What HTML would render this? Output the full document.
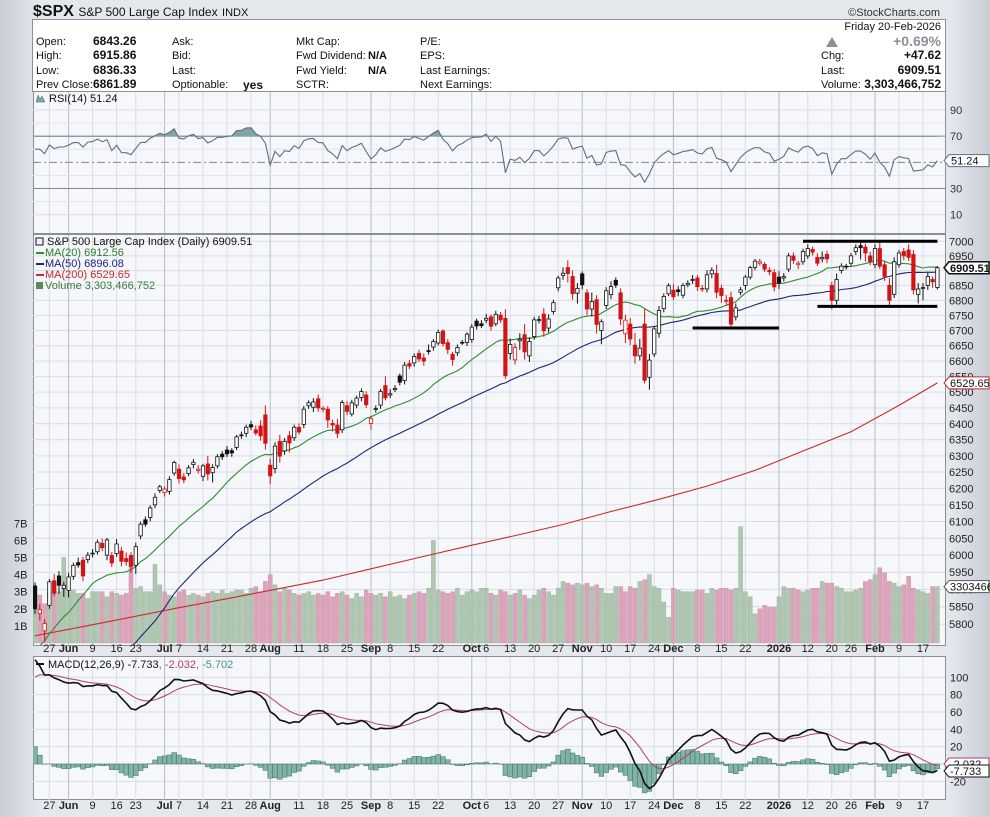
<!DOCTYPE html>
<html><head><meta charset="utf-8"><style>
html,body{margin:0;padding:0;width:990px;height:817px;overflow:hidden;background:#dde1e7;font-family:"Liberation Sans",Arial,sans-serif}
svg{display:block}
text{font-family:"Liberation Sans",Arial,sans-serif}
</style></head><body>
<svg id="chart" width="990" height="817" xmlns="http://www.w3.org/2000/svg">
<defs>
<linearGradient id="bg" x1="0" x2="1" y1="0" y2="0"><stop offset="0" stop-color="#c9cdd5"/><stop offset="0.04" stop-color="#e4e7ec"/><stop offset="0.96" stop-color="#e4e7ec"/><stop offset="1" stop-color="#c9cdd5"/></linearGradient>
<clipPath id="clipMain"><rect x="33" y="234" width="912" height="411"/></clipPath>
<clipPath id="clipRsiHi"><rect x="33" y="92" width="912" height="45"/></clipPath>
<clipPath id="clipMacd"><rect x="33" y="657" width="912" height="143"/></clipPath>
</defs>
<rect x="0" y="0" width="990" height="817" fill="url(#bg)"/>
<g id="header">
<text x="33" y="16" font-size="16" font-weight="bold" fill="#111">$SPX <tspan font-size="12" font-weight="normal">S&amp;P 500 Large Cap Index</tspan> <tspan font-size="11" font-weight="normal">INDX</tspan></text>
<text x="940" y="16" font-size="11" fill="#333" text-anchor="end">©StockCharts.com</text>
<rect x="32.5" y="19.5" width="913" height="72" fill="#fff" stroke="#8a8f99"/>
<g font-size="11" fill="#111">
<text x="36" y="45">Open:</text><text x="93" y="45" font-weight="bold" font-size="12">6843.26</text>
<text x="36" y="59">High:</text><text x="93" y="59" font-weight="bold" font-size="12">6915.86</text>
<text x="36" y="74">Low:</text><text x="93" y="74" font-weight="bold" font-size="12">6836.33</text>
<text x="36" y="88">Prev Close:</text><text x="93" y="88" font-weight="bold" font-size="12">6861.89</text>
<text x="172" y="45">Ask:</text><text x="172" y="59">Bid:</text><text x="172" y="74">Last:</text><text x="172" y="88">Optionable:</text><text x="243" y="89" font-weight="bold" font-size="12">yes</text>
<text x="296" y="45">Mkt Cap:</text><text x="296" y="59">Fwd Dividend:</text><text x="368" y="59" font-weight="bold">N/A</text>
<text x="296" y="74">Fwd Yield:</text><text x="368" y="74" font-weight="bold">N/A</text><text x="296" y="88">SCTR:</text>
<text x="420" y="45">P/E:</text><text x="420" y="59">EPS:</text><text x="420" y="74">Last Earnings:</text><text x="420" y="88">Next Earnings:</text>
<text x="941" y="30" text-anchor="end">Friday  20-Feb-2026</text>
<polygon points="826,47 832,37 838,47" fill="#8a9099"/>
<text x="941" y="46" text-anchor="end" font-size="14" font-weight="bold" fill="#8a9099">+0.69%</text>
<text x="821" y="59">Chg:</text><text x="941" y="59" text-anchor="end" font-weight="bold" font-size="12">+47.62</text>
<text x="821" y="74">Last:</text><text x="941" y="74" text-anchor="end" font-weight="bold" font-size="12">6909.51</text>
<text x="821" y="88">Volume:</text><text x="941" y="88" text-anchor="end" font-weight="bold" font-size="12">3,303,466,752</text>
</g>
</g>
<g id="rsiPanel"></g>
<g id="mainPanel"></g>
<g id="macdPanel"></g>
<g id="dateAxes"></g>
</svg>
<script>
// ---- data ----
const priorCloses = [5599,5522,5639,5675,5615,5675,5662,5668,5768,5777,5712,5693,5581,5612,5633,5671,5397,5074,5062,4982,5457,5268,5363,5406,5397,5276,5283,5158,5288,5376,5485,5525,5529,5561,5569,5604,5687,5650,5607,5631,5664,5660,5844,5886,5892,5917,5958,5964,5941];
const closes = [5844,5842,5802,5922,5889,5912,5912,
5936,5970,5971,5939,6000,6006,6038,6022,6045,5977,6033,5982,5981,5967,6025,6092,6092,6141,6173,6205,
6198,6227,6279,6230,6226,6263,6280,6259,6269,6244,6264,6297,6297,6306,6309,6359,6363,6389,6390,6371,6362,6339,
6238,6330,6299,6345,6340,6389,6374,6446,6466,6469,6450,6449,6412,6396,6370,6467,6439,6466,6481,6502,6460,
6416,6448,6502,6482,6495,6512,6532,6587,6584,6615,6607,6600,6631,6664,6693,6657,6638,6605,6644,6661,6688,
6711,6715,6716,6740,6714,6753,6735,6553,6654,6644,6671,6630,6664,6735,6735,6699,6738,6792,6875,6891,6890,6822,6840,
6852,6771,6796,6720,6729,6832,6846,6851,6738,6734,6672,6617,6642,6538,6603,6705,6766,6813,6849,
6812,6829,6850,6857,6870,6846,6840,6886,6901,6827,6816,6800,6721,6775,6835,6878,6910,6932,6930,6905,6896,6845,
6858,6880,6950,6935,6925,6965,6975,6963,6925,6945,6940,6800,6870,6915,6915,6950,6978,6978,6960,6930,
6975,6915,6880,6800,6930,6960,6950,6945,6835,6838,6843,6880,6862,6909.51];
const opens = [5910,5830,5781,5854,5925,5939,5903,
5897,5938,5978,5985,5987,6005,6010,6035,6000,5999,6005,6012,5990,5999,5970,6057,6105,6112,6150,6194,
6187,6191,6247,6259,6235,6245,6273,6255,6237,6275,6248,6269,6305,6318,6316,6326,6365,6370,6397,6381,6393,6428,
6271,6261,6345,6315,6362,6356,6389,6398,6457,6452,6479,6446,6446,6401,6396,6381,6457,6431,6459,6483,6491,
6401,6445,6459,6521,6491,6508,6552,6537,6592,6594,6625,6610,6634,6646,6659,6698,6660,6622,6627,6661,6661,
6670,6731,6722,6734,6745,6722,6751,6740,6625,6604,6666,6686,6617,6680,6736,6754,6708,6763,6842,6884,6910,6880,6824,
6889,6825,6771,6802,6700,6783,6819,6867,6825,6689,6721,6652,6617,6721,6548,6623,6691,6772,6822,
6834,6835,6817,6852,6867,6875,6838,6838,6889,6890,6840,6797,6809,6745,6827,6850,6878,6911,6925,6921,6901,6893,
6878,6875,6905,6950,6920,6930,6950,6972,6945,6940,6955,6850,6800,6900,6915,6925,6965,6985,6980,6950,
6920,6975,6920,6850,6820,6920,6965,6970,6955,6820,6840,6850,6870,6843.26];
const wickUp = [10,15,12,8,20,14,10,12,8,15,10,9,12,8,14,6,10,15,12,18,10,12,8,10,8,12,6,8,10,6,15,12,8,10,12,6,25,10,8,10,12,8,6,10,8,12,14,18,30,20,12,20,10,15,8,12,10,8,12,14,6,10,12,20,8,15,10,8,10,12,8,10,8,30,15,10,8,10,12,10,12,15,20,8,10,6,12,8,10,8,6,10,8,12,15,8,12,10,30,20,14,20,35,14,10,12,20,15,10,8,20,25,20,18,8,12,30,15,8,12,18,10,15,18,20,40,30,50,20,10,15,10,8,20,12,8,10,15,10,12,15,10,30,12,18,20,15,10,8,6,8,10,8,10,12,20,12,10,12,8,10,15,10,14,20,12,12,20,10,8,10,12,10,12,14,15,20,10,25,15,10,12,20,15,20,15,12,10,6];
const wickDn = [15,20,30,10,8,25,25,20,10,8,15,10,12,8,10,15,12,10,15,12,20,25,10,8,12,10,8,12,10,8,15,10,8,12,10,15,20,30,8,10,10,12,8,10,12,10,8,15,20,25,15,20,12,30,10,8,12,10,15,12,10,25,20,15,10,12,8,10,12,10,20,10,12,8,10,8,10,12,10,12,10,15,10,12,8,10,15,20,10,8,12,10,12,8,10,15,8,10,10,20,15,30,25,20,10,12,20,15,10,12,15,30,20,35,15,20,25,30,45,12,15,10,20,30,20,25,15,10,40,10,15,12,8,10,15,10,8,12,15,10,12,15,20,25,15,10,12,10,15,8,10,8,10,12,15,20,12,10,12,15,10,10,12,10,12,15,30,15,10,12,10,12,40,30,12,12,10,15,20,12,10,15,12,15,30,40,15,20,7];
const volumes = [3.2,2.8,2.3,3.0,3.5,3.0,5.0,
3.0,3.1,2.9,2.9,2.6,3.0,3.0,3.0,2.7,3.0,2.9,2.8,2.9,4.9,3.2,3.3,3.0,3.0,4.6,3.4,
3.0,2.8,2.7,3.0,3.1,2.8,2.9,2.8,2.7,2.9,3.0,2.9,3.1,2.9,3.0,3.1,3.1,2.9,3.2,3.3,3.0,3.6,
4.0,3.4,3.0,3.2,3.1,2.9,2.8,2.9,3.0,2.8,2.9,2.8,3.0,2.7,2.9,3.0,2.8,2.6,2.9,2.7,3.1,
2.9,2.8,2.9,2.7,3.0,2.7,2.8,2.6,2.8,2.9,3.0,2.9,3.2,6.0,3.1,3.0,2.9,3.0,3.2,2.8,3.0,
3.1,3.0,3.2,3.2,2.9,2.8,3.1,3.0,2.8,2.9,3.1,2.8,2.6,2.8,3.1,3.2,3.0,2.8,3.2,3.6,3.5,3.4,3.5,
3.4,3.5,3.3,3.4,3.2,2.9,2.9,3.3,3.3,3.0,3.3,3.2,3.6,3.7,4.0,3.3,3.2,2.4,1.5,
3.2,3.1,3.0,3.0,3.0,3.1,3.1,2.9,3.2,3.1,3.2,3.2,3.1,3.2,6.8,3.0,2.7,1.7,2.0,2.2,2.1,2.1,
2.7,3.3,3.2,3.2,3.1,3.0,3.1,3.2,3.2,3.6,3.5,3.5,3.3,3.2,3.0,3.0,3.1,3.2,3.6,3.7,
4.0,4.4,4.1,3.6,3.5,3.3,3.4,3.9,3.2,3.1,3.0,2.9,3.3,3.30];
const ma200Idx = [0,10,20,30,40,50,60,70,80,90,100,110,120,130,140,150,160,170,180,188];
const ma200Val = [5767,5793,5820,5847,5873,5900,5927,5960,5993,6026,6058,6091,6130,6167,6207,6255,6315,6375,6458,6529.65];
const priceTicks = [5800,5850,5900,5950,6000,6050,6100,6150,6200,6250,6300,6350,6400,6450,6500,6550,6600,6650,6700,6750,6800,6850,6900,6950,7000];
const volTicks = [1,2,3,4,5,6,7];
const rsiTicks = [90,70,30,10];
const macdTicks = [100,80,60,40,20,-20];
const trendPrices = [6708,7000,6780];
const trendStart = [137,160,163];
const trendEnd = [155,188,188];
const holidays = ["2025-05-26","2025-06-19","2025-07-04","2025-09-01","2025-11-27","2025-12-25","2026-01-01","2026-01-19","2026-02-16"];

// ---- scales ----
const N = closes.length;
const X0 = 35, DX = 4.8, PL = 33, PR = 945;
const xi = i => X0 + i*DX;
const yP = p => 241.3 + (Math.log(7000) - Math.log(p))*2036;
const yV = v => 643 - v*17.1;
const yR = r => 110 + (90 - r)*1.309;
const yM = m => 764 - m*0.867;
const NS = "http://www.w3.org/2000/svg";
function mk(tag, attrs, parent){const e=document.createElementNS(NS,tag);for(const k in attrs)e.setAttribute(k,attrs[k]);if(parent)parent.appendChild(e);return e;}
function txt(parent,x,y,s,attrs){const t=mk("text",Object.assign({x:x,y:y},attrs||{}),parent);t.textContent=s;return t;}

// trading days
const days=[];{let d=new Date(Date.UTC(2025,4,21));const end=new Date(Date.UTC(2026,1,20));while(d<=end){const w=d.getUTCDay();const s=d.toISOString().slice(0,10);if(w!==0&&w!==6&&holidays.indexOf(s)<0)days.push(new Date(d));d=new Date(d.getTime()+86400000);}}
const MON=["Jan","Feb","Mar","Apr","May","Jun","Jul","Aug","Sep","Oct","Nov","Dec"];
const labels=[];
const monthStarts=[];
for(let i=1;i<days.length;i++){if(days[i].getUTCMonth()!==days[i-1].getUTCMonth())monthStarts.push(i);}
for(let i=1;i<days.length;i++){
  if(monthStarts.indexOf(i)>=0){const m=days[i].getUTCMonth();labels.push({i:i,t:m===0?String(days[i].getUTCFullYear()):MON[m],month:true});continue;}
  const newWeek=days[i].getUTCDay()<days[i-1].getUTCDay()||(days[i]-days[i-1])>3*86400000;
  if(!newWeek)continue;
  let skip=false;for(const ms of monthStarts){if(i-ms>0&&i-ms<3)skip=true;if(ms-i>0&&ms-i<=3)skip=true;}
  if(!skip)labels.push({i:i,t:String(days[i].getUTCDate()),month:false});
}

// all closes for indicators
const all = priorCloses.concat(closes);
const P0 = priorCloses.length;
function sma(n,i){let s=0;for(let k=i-n+1;k<=i;k++)s+=all[k];return s/n;}
function ema(arr,n){const a=2/(n+1);const out=[arr[0]];for(let i=1;i<arr.length;i++)out.push(a*arr[i]+(1-a)*out[i-1]);return out;}
const e12=ema(all,12),e26=ema(all,26);const macdAll=all.map((v,i)=>e12[i]-e26[i]);const sigAll=ema(macdAll,9);
const rsiAll=[];{let g=0,l=0;for(let i=1;i<=14;i++){const c=all[i]-all[i-1];if(c>0)g+=c;else l-=c;}g/=14;l/=14;for(let i=0;i<all.length;i++){if(i>14){const c=all[i]-all[i-1];g=(g*13+(c>0?c:0))/14;l=(l*13+(c<0?-c:0))/14;}rsiAll.push(i<14?50:100-100/(1+g/(l||1e-9)));}}

function grid(parent,y1,y2){
  for(const L of labels){const ln=mk("line",{x1:xi(L.i),x2:xi(L.i),y1:y1,y2:y2,stroke:L.month?"#b7bcc6":"#d9dde5","stroke-width":1},parent);}
}

// ---- RSI panel ----
const rsiG=document.getElementById("rsiPanel");
mk("rect",{x:PL+0.5,y:91.5,width:PR-PL,height:142,fill:"#f5f7fb",stroke:"#8a8f99"},rsiG);
grid(rsiG,92,233);
for(const t of [80,60,40,20]){mk("line",{x1:PL,x2:PR,y1:yR(t),y2:yR(t),stroke:"#e2e5eb"},rsiG);}
for(const t of rsiTicks){const strong=(t===70||t===30);const ln=mk("line",{x1:PL,x2:PR,y1:yR(t),y2:yR(t),stroke:strong?"#80858f":"#d9dde5","stroke-width":1},rsiG);
  const tl=txt(rsiG,950,yR(t)+4,String(t),{"font-size":11,fill:"#333"});}
mk("line",{x1:PL,x2:PR,y1:yR(50),y2:yR(50),stroke:"#80858f","stroke-dasharray":"8,3,2,3"},rsiG);
{let pts=[];for(let i=0;i<N;i++)pts.push(xi(i).toFixed(1)+","+yR(rsiAll[P0+i]).toFixed(1));
 const area=mk("polygon",{points:xi(0)+","+yR(70)+" "+pts.join(" ")+" "+xi(N-1)+","+yR(70),fill:"#7fa5a5","clip-path":"url(#clipRsiHi)"},rsiG);
 const pl=mk("polyline",{points:pts.join(" "),fill:"none",stroke:"#636b85","stroke-width":1.1},rsiG);
 const last=rsiAll[rsiAll.length-1];
 const bx=mk("polygon",{points:`944,${yR(last)} 949,${yR(last)-6} 989,${yR(last)-6} 989,${yR(last)+6} 949,${yR(last)+6}`,fill:"#fff",stroke:"#636b85"},rsiG);
 txt(rsiG,951,yR(last)+4,"51.24",{"font-size":11,fill:"#111"});}
{const t=txt(rsiG,49,102,"RSI(14) 51.24",{"font-size":11,fill:"#111","font-family":"Liberation Mono, monospace"});
 mk("polygon",{points:"36,102 38,95 40,99 42,96 45,102",fill:"#7fa5a5",stroke:"#4a6a6a","stroke-width":0.5},rsiG);}

// ---- main panel ----
const mg=document.getElementById("mainPanel");
mk("rect",{x:PL+0.5,y:234.5,width:PR-PL,height:411,fill:"#f5f7fb",stroke:"#8a8f99"},mg);
for(const p of priceTicks){mk("line",{x1:PL,x2:PR,y1:yP(p),y2:yP(p),stroke:"#d9dde5"},mg);
  const tl=txt(mg,949,yP(p)+4,String(p),{"font-size":11,fill:"#222"});}
grid(mg,235,645);
for(const v of volTicks){const tl=txt(mg,14,yV(v)+4,v+"B",{"font-size":11,fill:"#222"});}
const clipG=mk("g",{"clip-path":"url(#clipMain)"},mg);
for(let i=0;i<N;i++){const down=i>0&&closes[i]<closes[i-1];
  const b=mk("rect",{x:xi(i)-2,y:yV(volumes[i]),width:4,height:643-yV(volumes[i]),fill:down?"#d99cb3":"#a9c2aa",stroke:down?"#c98aa1":"#93ad95","stroke-width":0.5,opacity:0.9},clipG);
  }
function line(vals,idx,color,name){const pts=[];for(let k=0;k<vals.length;k++){if(vals[k]==null)continue;pts.push(xi(idx[k]).toFixed(1)+","+yP(vals[k]).toFixed(1));}
  const pl=mk("polyline",{points:pts.join(" "),fill:"none",stroke:color,"stroke-width":1.1},clipG);}
{const idx=[],m20=[],m50=[];for(let i=0;i<N;i++){idx.push(i);m20.push(sma(20,P0+i));m50.push(sma(50,P0+i));}
 line(ma200Val,ma200Idx,"#cc2a2a","ma200-line");line(m50,idx,"#1f2479","ma50-line");line(m20,idx,"#2e8b2e","ma20-line");}
for(let i=0;i<N;i++){const o=opens[i],c=closes[i];const red=i>0&&c<closes[i-1];const col=red?"#d41414":"#111";const filled=c<o;
  const hi=Math.max(o,c)+(wickUp[i]||8),lo=Math.min(o,c)-(wickDn[i]||8);
  const g=mk("g",{},clipG);
  mk("line",{x1:xi(i),x2:xi(i),y1:yP(hi),y2:yP(lo),stroke:col,"stroke-width":1},g);
  const top=yP(Math.max(o,c)),bot=yP(Math.min(o,c));
  mk("rect",{x:xi(i)-1.7,y:top,width:3.4,height:Math.max(bot-top,0.8),fill:filled?col:"#fff",stroke:col,"stroke-width":0.8},g);}
for(let k=0;k<trendPrices.length;k++){const l=mk("line",{x1:xi(trendStart[k]),x2:xi(trendEnd[k]),y1:yP(trendPrices[k]),y2:yP(trendPrices[k]),stroke:"#000","stroke-width":3},clipG);}
function tag(parent,y,label,stroke,bold,name){const p=mk("polygon",{points:`944,${y} 949,${y-6} 989,${y-6} 989,${y+6} 949,${y+6}`,fill:"#fff",stroke:stroke,"stroke-width":bold?1.5:1},parent);
  txt(parent,950,y+4,label,{"font-size":11,fill:"#111","font-weight":bold?"bold":"normal"});}
tag(mg,yP(ma200Val[ma200Val.length-1]),"6529.65","#cc2a2a",false,"ma200-value-tag");
tag(mg,yV(volumes[N-1]),"3303466","#555",false,"volume-value-tag");
tag(mg,yP(closes[N-1]),"6909.51","#111",true,"price-value-tag");
{const lg=mk("g",{"font-size":11},mg);
 mk("rect",{x:36,y:238,width:7,height:7,fill:"none",stroke:"#111"},lg);
 txt(lg,47,245,"S&P 500 Large Cap Index (Daily) 6909.51",{fill:"#111"});
 mk("line",{x1:36,x2:44,y1:253,y2:253,stroke:"#2e8b2e","stroke-width":2},lg);txt(lg,45,256,"MA(20) 6912.56",{fill:"#2e7a2e"});
 mk("line",{x1:36,x2:44,y1:264,y2:264,stroke:"#1f2479","stroke-width":2},lg);txt(lg,45,267,"MA(50) 6896.08",{fill:"#1f2479"});
 mk("line",{x1:36,x2:44,y1:275,y2:275,stroke:"#cc2a2a","stroke-width":2},lg);txt(lg,45,278,"MA(200) 6529.65",{fill:"#cc2a2a"});
 mk("rect",{x:36,y:282,width:7,height:7,fill:"#5a8a5a"},lg);txt(lg,45,289,"Volume 3,303,466,752",{fill:"#3c7a3c"});}

// ---- MACD ----
const mc=document.getElementById("macdPanel");
mk("rect",{x:PL+0.5,y:656.5,width:PR-PL,height:143,fill:"#f5f7fb",stroke:"#8a8f99"},mc);
for(const t of macdTicks.concat([0])){mk("line",{x1:PL,x2:PR,y1:yM(t),y2:yM(t),stroke:"#d9dde5"},mc);}
for(const t of macdTicks){const tl=txt(mc,950,yM(t)+4,String(t),{"font-size":11,fill:"#222"});}
grid(mc,657,800);
const mcl=mk("g",{"clip-path":"url(#clipMacd)"},mc);
for(let i=0;i<N;i++){const h=macdAll[P0+i]-sigAll[P0+i];const y=yM(h),y0=yM(0);
  const b=mk("rect",{x:xi(i)-2.4,y:Math.min(y,y0),width:4.8,height:Math.abs(y-y0),fill:"#80b3a6",stroke:"#3f6f66","stroke-width":0.5},mcl);}
{let p1=[],p2=[];for(let i=0;i<N;i++){p1.push(xi(i).toFixed(1)+","+yM(macdAll[P0+i]).toFixed(1));p2.push(xi(i).toFixed(1)+","+yM(sigAll[P0+i]).toFixed(1));}
 const s=mk("polyline",{points:p2.join(" "),fill:"none",stroke:"#b0405f","stroke-width":1},mcl);
 const m=mk("polyline",{points:p1.join(" "),fill:"none",stroke:"#111","stroke-width":1.6},mcl);}
tag(mc,764,"-2.032","#b0405f",false,"macd-signal-tag");
tag(mc,771,"-7.733","#111",false,"macd-value-tag");
{const lg=mk("g",{"font-size":11,"font-family":"Liberation Mono, monospace"},mc);
 mk("line",{x1:36,x2:44,y1:664,y2:664,stroke:"#111","stroke-width":2},lg);
 const t=txt(lg,48,668,"MACD(12,26,9) -7.733",{fill:"#111"});
 const a=mk("tspan",{fill:"#b0405f"},t);a.textContent=", -2.032";const b=mk("tspan",{fill:"#4a9090"},t);b.textContent=", -5.702";}

// ---- date axes ----
const da=document.getElementById("dateAxes");
for(const y of [655,812]){for(const L of labels){const t=txt(da,xi(L.i),y-3,L.t,{"font-size":11,"text-anchor":"middle",fill:"#222","font-weight":L.month?"bold":"normal"});}}
</script>
</body></html>
